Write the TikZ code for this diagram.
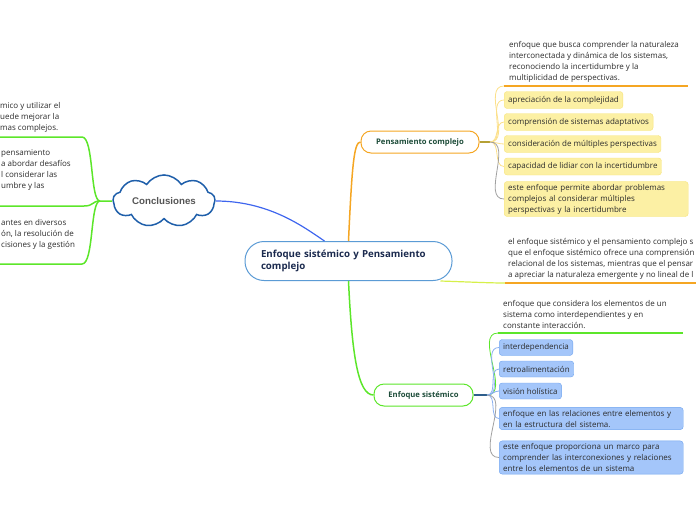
\documentclass[tikz,border=0pt]{standalone}
\usepackage{fontspec}
\setmainfont{Open Sans}
\newfontfamily\cloudfont{Liberation Sans}
\usetikzlibrary{shapes.symbols}
\definecolor{navytext}{HTML}{1B2A4E}
\definecolor{greentext}{HTML}{1E4D3A}
\definecolor{desctext}{HTML}{2B2B2B}
\definecolor{orangec}{HTML}{F5A623}
\definecolor{greenc}{HTML}{5CE62A}
\definecolor{centralborder}{HTML}{5B9BD5}
\definecolor{cloudblue}{HTML}{1F5FAA}
\definecolor{bluec}{HTML}{3F66EE}
\definecolor{yfill}{HTML}{FCF0A4}
\definecolor{yborder}{HTML}{F7E37A}
\definecolor{bfill}{HTML}{A4C6FA}
\definecolor{bborder}{HTML}{6EA3EE}
\definecolor{fanyellow}{HTML}{FCE08A}
\definecolor{fangray}{HTML}{A0A0A0}
\definecolor{fanblue}{HTML}{8AB0F0}
\definecolor{esdark}{HTML}{2E5E8C}
\definecolor{olivec}{HTML}{B5A035}
\definecolor{limec}{HTML}{D6F04A}
\definecolor{cloudtext}{HTML}{555555}
\begin{document}
\begin{tikzpicture}[x=1pt,y=-1pt,
  desc/.style={anchor=north west, inner sep=0pt, align=left, font=\fontsize{8}{11}\selectfont, text=desctext},
  ybox/.style={anchor=west, draw=yborder, fill=yfill, rounded corners=3pt, inner xsep=4pt, inner ysep=2.5pt, minimum height=17pt, align=left, font=\fontsize{8}{11}\selectfont, text=desctext},
  bbox/.style={anchor=west, draw=bborder, fill=bfill, rounded corners=3pt, inner xsep=4pt, inner ysep=2.5pt, minimum height=16pt, align=left, font=\fontsize{8}{11}\selectfont, text=desctext},
  branch/.style={draw=#1, fill=white, line width=1pt, rounded corners=10pt, minimum height=22pt, font=\fontsize{7.7}{9}\selectfont\bfseries, text=greentext},
  central/.style={draw=centralborder, fill=white, line width=1pt, rounded corners=19pt, minimum width=207pt, minimum height=39pt, text width=175pt, align=left, font=\fontsize{9.7}{12.5}\selectfont\bfseries, text=navytext},
  conn/.style={line width=1.5pt},
  fan/.style={line width=0.8pt}
]
\useasboundingbox (0,0) rectangle (696,520);

% main nodes
\node[central] (c) at (348.5,261) {Enfoque sistémico y Pensamiento\\complejo};
\node[branch=orangec, minimum width=118pt] (pc) at (420,142) {Pensamiento complejo};
\node[branch=greenc, minimum width=99pt] (es) at (423.5,395) {Enfoque sistémico};
\node[cloud, cloud puffs=9, cloud puff arc=115, aspect=2.4, minimum width=102pt, minimum height=41pt, draw=cloudblue, line width=1.5pt, fill=white, inner sep=0pt, font=\cloudfont\bfseries\fontsize{9.7}{11}\selectfont, text=cloudtext] (concl) at (164,201) {Conclusiones};

% Pensamiento complejo children
\node[desc] (pcd) at (509,41.5) {enfoque que busca comprender la naturaleza\\interconectada y dinámica de los sistemas,\\reconociendo la incertidumbre y la\\multiplicidad de perspectivas.};
\node[ybox] (b1) at (504,100) {apreciación de la complejidad};
\node[ybox] (b2) at (504,122) {comprensión de sistemas adaptativos};
\node[ybox] (b3) at (504,144) {consideración de múltiples perspectivas};
\node[ybox] (b4) at (504,166.5) {capacidad de lidiar con la incertidumbre};
\node[ybox, text width=176pt] (b5) at (504,199) {este enfoque permite abordar problemas\\complejos al considerar múltiples\\perspectivas y la incertidumbre};

% Enfoque sistémico children
\node[desc] (esd) at (503,300) {enfoque que considera los elementos de un\\sistema como interdependientes y en\\constante interacción.};
\node[bbox] (e1) at (499,347.5) {interdependencia};
\node[bbox] (e2) at (499,369) {retroalimentación};
\node[bbox] (e3) at (499,391) {visión holística};
\node[bbox, text width=176pt] (e4) at (499,418.5) {enfoque en las relaciones entre elementos y\\en la estructura del sistema.};
\node[bbox, text width=176pt] (e5) at (499,457.5) {este enfoque proporciona un marco para\\comprender las interconexiones y relaciones\\entre los elementos de un sistema};

% right text of central
\node[desc] (rtd) at (508,238.5) {el enfoque sistémico y el pensamiento complejo s\\que el enfoque sistémico ofrece una comprensión\\relacional de los sistemas, mientras que el pensar\\a apreciar la naturaleza emergente y no lineal de l};

% left texts (Conclusiones)
\node[desc] (l1) at (0,102.5) {mico y utilizar el\\uede mejorar la\\mas complejos.};
\node[desc] (l2) at (1,149) {pensamiento\\a abordar desafíos\\l considerar las\\umbre y las};
\node[desc] (l3) at (1,219) {antes en diversos\\ón, la resolución de\\cisiones y la gestión};

% coordinates
\coordinate (pcj) at (490,142);
\coordinate (pcu1) at (504,86);
\coordinate (pcu2) at (688,86);
\coordinate (esj) at (487,395);
\coordinate (esu1) at (498,333);
\coordinate (esu2) at (683,333);
\coordinate (rt1) at (505,283);
\coordinate (rt2) at (696,283);
\coordinate (cj) at (100,201);
\coordinate (lu1) at (82,137);
\coordinate (lu1e) at (0,137);
\coordinate (lu2) at (84,206);
\coordinate (lu2e) at (0,206);
\coordinate (lu3) at (82,264);
\coordinate (lu3e) at (0,264);

% central connectors
\draw[conn, orangec] (c.north) .. controls (352,165) and (354,142) .. (pc.west);
\draw[conn, greenc] (c.south) .. controls (352,355) and (358,395) .. (es.west);
\draw[line width=1.2pt, bluec] (concl.east) .. controls (270,201) and (305,228) .. ([xshift=-24pt]c.north);
\draw[line width=1.2pt, limec] ([xshift=-12pt]c.south east) .. controls (470,282) and (490,283) .. (rt1);
\draw[conn, orangec] (rt1) -- (rt2);

% PC fan
\draw[conn, olivec] (pc.east) -- (pcj);
\draw[fan, fanyellow] (pcj) to[out=0,in=180] (pcu1);
\draw[conn, orangec] (pcu1) -- (pcu2);
\foreach \b in {b1,b2,b3,b4} \draw[fan, fanyellow] (pcj) to[out=0,in=180] (\b.west);
\draw[fan, fangray] (pcj) to[out=0,in=180] (b5.west);

% ES fan
\draw[conn, esdark] (es.east) -- (esj);
\draw[fan, greenc] (esj) to[out=0,in=180] (esu1);
\draw[conn, greenc] (esu1) -- (esu2);
\foreach \b in {e1,e2,e3,e4} \draw[fan, fanblue] (esj) to[out=0,in=180] (\b.west);
\draw[fan, fangray] (esj) to[out=0,in=180] (e5.west);

% Conclusiones fan
\draw[conn, greenc] (concl.west) -- (cj);
\draw[conn, greenc] (cj) .. controls (90,201) and (94,137) .. (lu1) -- (lu1e);
\draw[conn, greenc] (cj) .. controls (92,201) and (94,206) .. (lu2) -- (lu2e);
\draw[conn, greenc] (cj) .. controls (90,201) and (94,264) .. (lu3) -- (lu3e);
\end{tikzpicture}
\end{document}
